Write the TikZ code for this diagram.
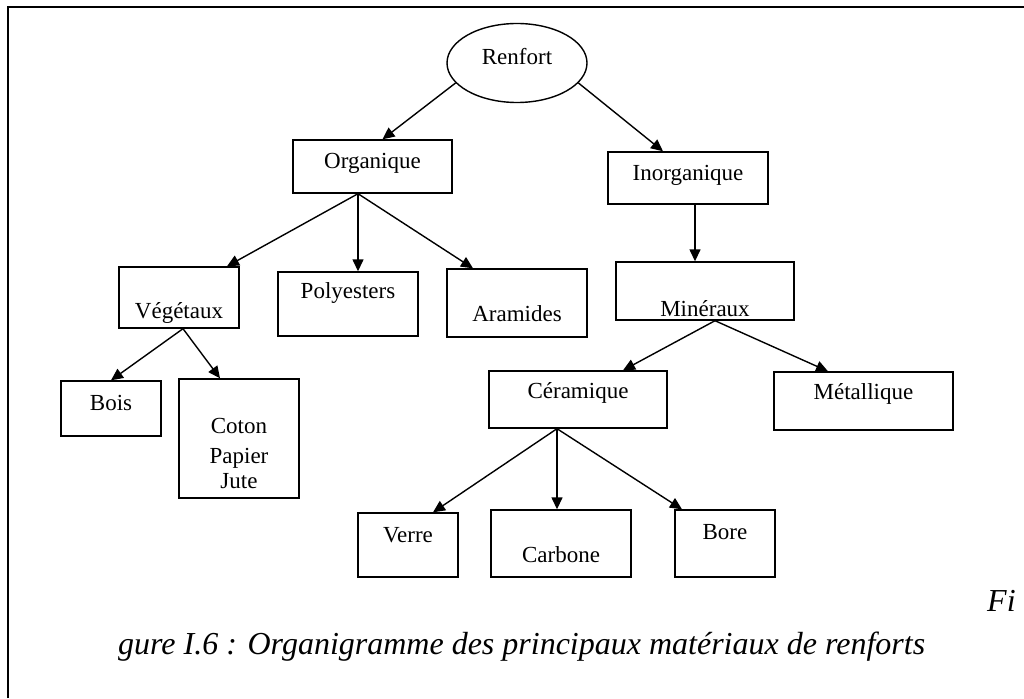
\documentclass[tikz,border=0pt]{standalone}
\usepackage{fontspec}
\setmainfont{Liberation Serif}
\usetikzlibrary{arrows.meta,shapes.geometric}
\begin{document}
\begin{tikzpicture}[x=1pt,y=-1pt,
  box/.style={draw, line width=1.4pt, inner sep=0pt, rectangle},
  lbl/.style={inner sep=0pt, font=\fontsize{23}{28}\selectfont},
  conn/.style={line width=1.4pt, -{Triangle[length=12pt,width=11pt]}},
  captext/.style={inner sep=0pt, font=\fontsize{32}{38}\selectfont\itshape}]
\useasboundingbox (0,0) rectangle (1024,698);
\fill[white] (0,0) rectangle (1024,698);
% frame
\draw[line width=2.4pt] (8,698) -- (8,7) -- (1024,7);
% nodes
\node[draw, line width=1.4pt, ellipse, minimum width=140pt, minimum height=79pt, inner sep=0pt] (ren) at (517,63) {};
\node[lbl] at (517,57) {Renfort};
\node[box, minimum width=159pt, minimum height=53pt] (org) at (372.5,166.5) {};
\node[lbl] at (372.5,163) {Organique};
\node[box, minimum width=160pt, minimum height=52pt] (inorg) at (688,178) {};
\node[lbl] at (688,175) {Inorganique};
\node[box, minimum width=120pt, minimum height=61pt] (veg) at (179,297.5) {};
\node[lbl] at (179,313) {Végétaux};
\node[box, minimum width=140pt, minimum height=64pt] (poly) at (348,304) {};
\node[lbl] at (348,293) {Polyesters};
\node[box, minimum width=140pt, minimum height=68pt] (ara) at (517,303) {};
\node[lbl] at (517,314) {Aramides};
\node[box, minimum width=178pt, minimum height=58pt] (min) at (705,291) {};
\begin{scope}
\clip (min.north west) rectangle ([yshift=-7pt]min.south east);
\node[lbl, anchor=base] at (705,316) {Minéraux};
\end{scope}
\node[box, minimum width=100pt, minimum height=55pt] (bois) at (111,408.5) {};
\node[lbl] at (111,403) {Bois};
\node[box, minimum width=120pt, minimum height=119pt] (coton) at (239,438.5) {};
\node[lbl, align=center] at (239,453) {Coton\\[2pt]Papier\\[-3pt]Jute};
\node[box, minimum width=178pt, minimum height=57pt] (cer) at (578,399.5) {};
\node[lbl] at (578,393) {Céramique};
\node[box, minimum width=179pt, minimum height=58pt] (met) at (863.5,401) {};
\node[lbl] at (863.5,394) {Métallique};
\node[box, minimum width=100pt, minimum height=64pt] (verre) at (408,545) {};
\node[lbl] at (408,535) {Verre};
\node[box, minimum width=140pt, minimum height=67pt] (carb) at (561,543.5) {};
\node[lbl] at (561,555) {Carbone};
\node[box, minimum width=100pt, minimum height=67pt] (bore) at (725,543.5) {};
\node[lbl] at (725,532) {Bore};
% connectors
\draw[conn] (ren.198) -- ([xshift=10pt]org.north);
\draw[conn] (ren.-18) -- ([xshift=-25pt]inorg.north);
\draw[conn] ([xshift=-14.5pt]org.south) -- ([xshift=48pt]veg.north);
\draw[conn] ([xshift=-14.5pt]org.south) -- ([xshift=10pt]poly.north);
\draw[conn] ([xshift=-14.5pt]org.south) -- ([xshift=-44pt]ara.north);
\draw[conn] ([xshift=7pt]inorg.south) -- ([xshift=-10pt]min.north);
\draw[conn] ([xshift=10pt]min.south) -- ([xshift=45pt]cer.north);
\draw[conn] ([xshift=10pt]min.south) -- ([xshift=-35.5pt]met.north);
\draw[conn] ([xshift=4pt]veg.south) -- (bois.north);
\draw[conn] ([xshift=4pt]veg.south) -- ([xshift=-19pt]coton.north);
\draw[conn] ([xshift=-21pt]cer.south) -- ([xshift=25pt]verre.north);
\draw[conn] ([xshift=-21pt]cer.south) -- ([xshift=-4pt]carb.north);
\draw[conn] ([xshift=-21pt]cer.south) -- ([xshift=-43pt]bore.north);
% caption
\node[captext, anchor=base west] (fi) at (987,611) {Fi};
\node[captext, anchor=base west] (caption) at (118,654) {gure I.6 : Organigramme des principaux matériaux de renforts};
\end{tikzpicture}
\end{document}
